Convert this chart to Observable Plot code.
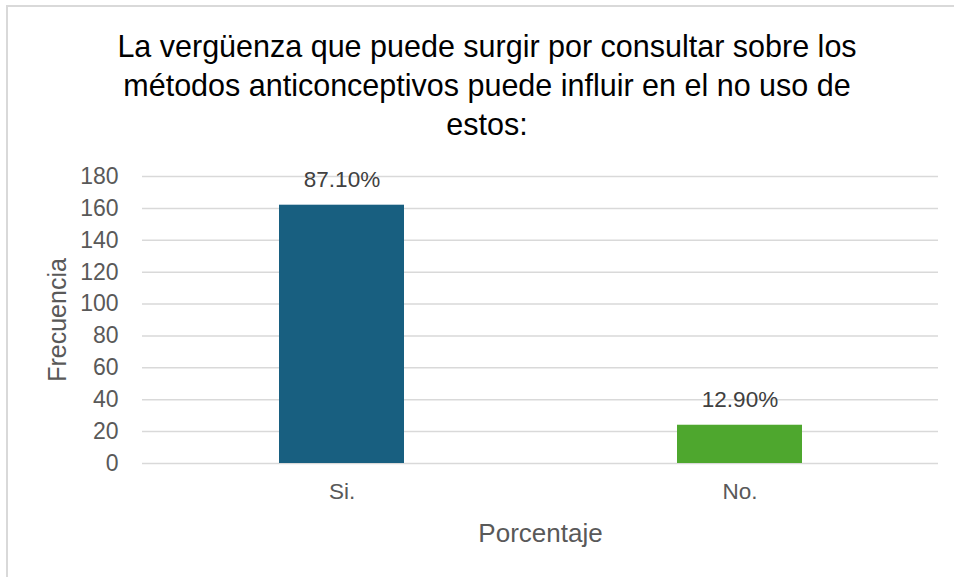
<!DOCTYPE html>
<html>
<head>
<meta charset="utf-8">
<script src="https://cdn.jsdelivr.net/npm/d3@7"></script>
<script src="https://cdn.jsdelivr.net/npm/@observablehq/plot@0.6"></script>
<style>
  html, body { margin: 0; padding: 0; background: #fff; }
  #wrap { position: relative; width: 954px; height: 577px; overflow: hidden; font-family: "Liberation Sans", Arial, sans-serif; }
  #frame { position: absolute; left: 6px; top: 5px; right: -10px; bottom: -10px; border-top: 2px solid #d9d9d9; border-left: 2px solid #d9d9d9; }
  #title { position: absolute; left: 67px; width: 840px; top: 27px; text-align: center; font-size: 30.5px; line-height: 39px; color: #000; }
  #chart { position: absolute; left: 0; top: 140px; }
</style>
</head>
<body>
<div id="wrap">
  <div id="frame"></div>
  <div id="title">La vergüenza que puede surgir por consultar sobre los<br>métodos anticonceptivos puede influir en el no uso de<br>estos:</div>
  <div id="chart"></div>
</div>
<script>
const categories = ["Si.", "No."];
const frequencies = [162, 24];
const percentLabels = ["87.10%", "12.90%"];
const barColors = ["#185f80", "#4ea72e"];
const yTicks = [0, 20, 40, 60, 80, 100, 120, 140, 160, 180];
const xAxisTitle = "Porcentaje";
const yAxisTitle = "Frecuencia";

const data = categories.map((c, i) => ({cat: c, value: frequencies[i], label: percentLabels[i], color: barColors[i]}));

const chart = Plot.plot({
  width: 954,
  height: 437,
  marginTop: 36,
  marginBottom: 114,
  marginLeft: 142,
  marginRight: 16,
  style: {fontFamily: "Liberation Sans, Arial, sans-serif", background: "transparent"},
  x: {domain: categories, paddingInner: 0.686, paddingOuter: 0.343},
  y: {domain: [0, 180]},
  marks: [
    Plot.gridY(yTicks, {stroke: "#d9d9d9", strokeOpacity: 1, strokeWidth: 1.5}),
    Plot.barY(data, {x: "cat", y: "value", fill: "color"}),
    Plot.text(data, {x: "cat", y: "value", text: "label", dy: -25, fontSize: 22.5, fill: "#404040", lineAnchor: "middle"}),
    Plot.axisY({ticks: yTicks, tickSize: 0, tickPadding: 24, fontSize: 23, color: "#595959", label: null}),
    Plot.axisX({tickSize: 0, tickPadding: 20, fontSize: 22.5, color: "#595959", label: null}),
    Plot.text([xAxisTitle], {frameAnchor: "bottom", dy: 70, fontSize: 26, fill: "#595959", lineAnchor: "middle", textAnchor: "middle"}),
    Plot.text([yAxisTitle], {frameAnchor: "left", dx: -85, rotate: -90, fontSize: 25, fill: "#595959", lineAnchor: "middle", textAnchor: "middle"})
  ]
});
document.getElementById("chart").appendChild(chart);
</script>
</body>
</html>
